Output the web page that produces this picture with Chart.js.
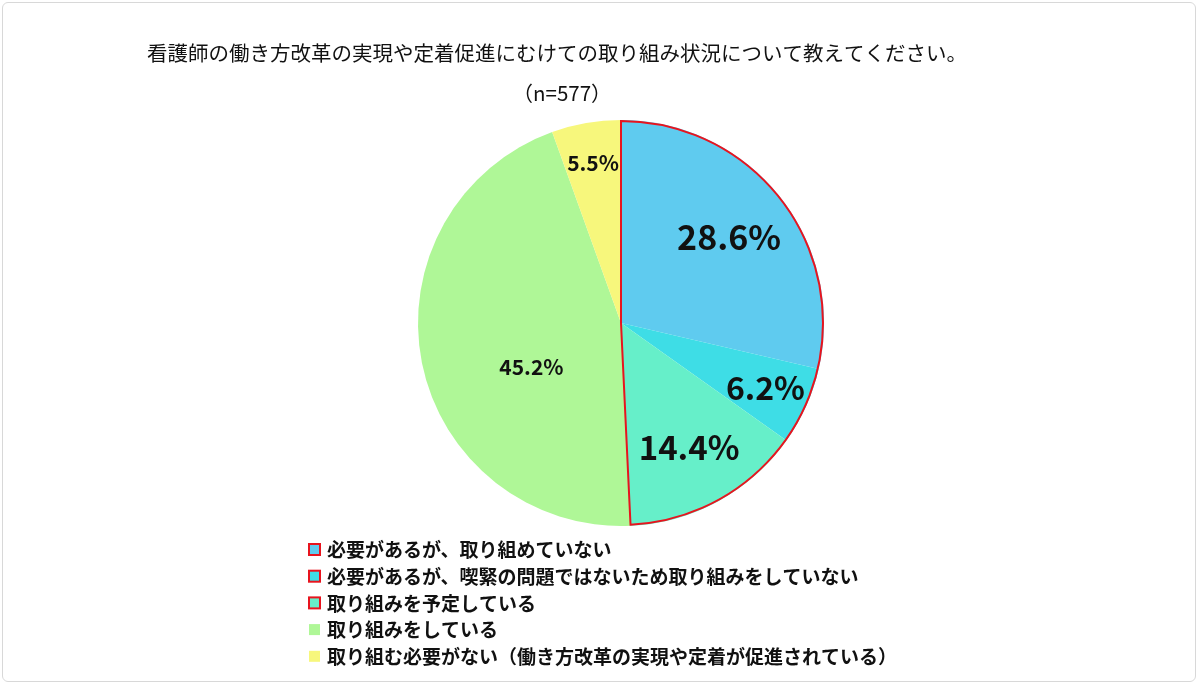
<!DOCTYPE html>
<html><head><meta charset="utf-8">
<script src="https://cdn.jsdelivr.net/npm/chart.js@4"></script>
<style>
html,body{margin:0;padding:0;background:#fff;}
#wrap{position:relative;width:1200px;height:686px;}
#frame{position:absolute;left:2px;top:2px;width:1194px;height:680px;border:1px solid #d8d8d8;border-radius:6px;box-sizing:border-box;pointer-events:none;}
</style></head>
<body>
<div id="wrap"><canvas id="c" width="1200" height="686"></canvas><div id="frame"></div></div>
<script>
const categories = [
  '必要があるが、取り組めていない',
  '必要があるが、喫緊の問題ではないため取り組みをしていない',
  '取り組みを予定している',
  '取り組みをしている',
  '取り組む必要がない（働き方改革の実現や定着が促進されている）'
];
const values = [28.6, 6.2, 14.4, 45.2, 5.5];
const colors = ['#5FCBEF', '#3EDDE6', '#66EFC9', '#AFF797', '#F7F77C'];
const outlined = [true, true, true, false, false];
const title = '看護師の働き方改革の実現や定着促進にむけての取り組み状況について教えてください。';
const subtitle = '（n=577）';

// label font size, radial position and vertical nudge per slice
const labelSize = [34, 32, 33, 21, 21];
const labelRadius = [0.68, 0.78, 0.7, 0.45, 0.8];
const labelDy = [0, 0, 0, 26, 0];
const FONT = '"Noto Sans CJK JP", "Noto Sans", sans-serif';
const RED = '#E8141E';

const drawText = {
  id: 'drawText',
  afterDatasetsDraw(chart) {
    const ctx = chart.ctx;
    const arcs = chart.getDatasetMeta(0).data;
    ctx.save();

    // red outline around the outlined group of slices
    const first = arcs[0].getProps(['x', 'y', 'startAngle', 'outerRadius'], true);
    const lastIdx = outlined.lastIndexOf(true);
    const last = arcs[lastIdx].getProps(['endAngle'], true);
    ctx.strokeStyle = RED;
    ctx.lineWidth = 2;
    ctx.beginPath();
    ctx.moveTo(first.x, first.y);
    ctx.arc(first.x, first.y, first.outerRadius - 1, first.startAngle, last.endAngle);
    ctx.closePath();
    ctx.stroke();

    ctx.fillStyle = '#111';
    ctx.textAlign = 'center';
    ctx.textBaseline = 'middle';
    ctx.font = '20.5px ' + FONT;
    ctx.fillText(title, 557, 53);
    ctx.fillText(subtitle, 562, 93);

    arcs.forEach((arc, i) => {
      const p = arc.getProps(['x', 'y', 'startAngle', 'endAngle', 'outerRadius'], true);
      const a = (p.startAngle + p.endAngle) / 2;
      const r = p.outerRadius * labelRadius[i];
      ctx.font = 'bold ' + labelSize[i] + 'px ' + FONT;
      ctx.fillText(values[i].toFixed(1) + '%', p.x + Math.cos(a) * r, p.y + Math.sin(a) * r + labelDy[i]);
    });

    ctx.textAlign = 'left';
    ctx.font = 'bold 19px ' + FONT;
    categories.forEach((c, i) => {
      const y = 550 + i * 26.7;
      ctx.fillStyle = colors[i];
      ctx.fillRect(309, y - 6, 11, 11);
      if (outlined[i]) {
        ctx.strokeStyle = RED;
        ctx.lineWidth = 2;
        ctx.strokeRect(309, y - 6, 11, 11);
      }
      ctx.fillStyle = '#111';
      ctx.fillText(c, 327, y);
    });
    ctx.restore();
  }
};

new Chart(document.getElementById('c'), {
  type: 'pie',
  data: {
    labels: categories,
    datasets: [{
      data: values,
      backgroundColor: colors,
      borderWidth: 0
    }]
  },
  options: {
    responsive: false,
    animation: false,
    layout: { padding: { left: 418, right: 376, top: 120, bottom: 160 } },
    plugins: { legend: { display: false }, tooltip: { enabled: false } }
  },
  plugins: [drawText]
});
</script>
</body></html>
